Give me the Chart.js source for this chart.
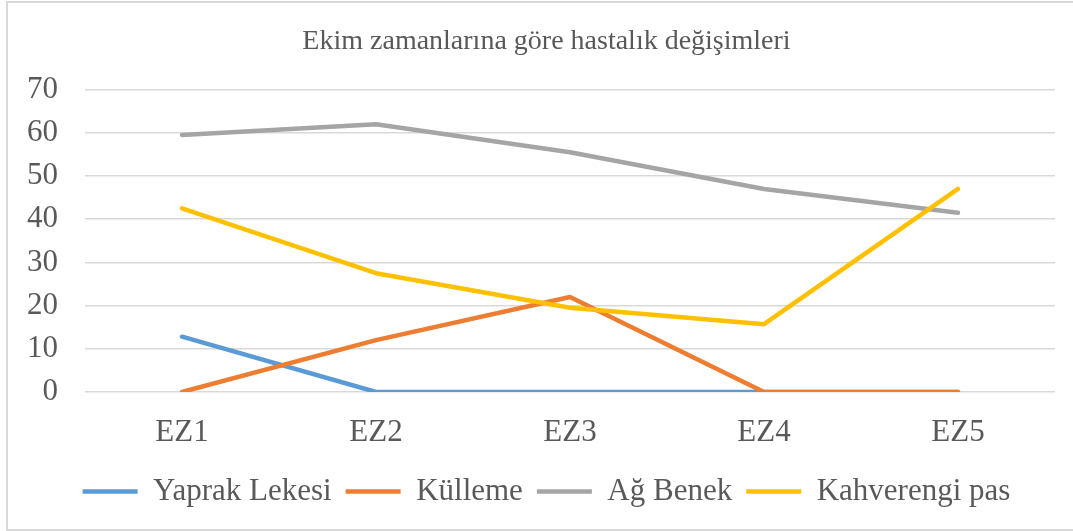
<!DOCTYPE html>
<html>
<head>
<meta charset="utf-8">
<script src="https://cdn.jsdelivr.net/npm/chart.js@4"></script>
<style>
  body { margin: 0; background: #fff; }
  .wrap { position: relative; width: 1073px; height: 531px; overflow: hidden; }
  .frame { position: absolute; left: 6px; top: 1px; width: 1080px; height: 526px;
           border: 2px solid #d9d9d9; pointer-events: none; }
</style>
</head>
<body>
<div class="wrap">
  <canvas id="chart" width="1073" height="531"></canvas>
  <div class="frame"></div>
</div>
<script>
const categories = ['EZ1', 'EZ2', 'EZ3', 'EZ4', 'EZ5'];
const yaprakLekesi = [12.8, 0, 0, 0, 0];
const kulleme = [0, 12, 22, 0, 0];
const agBenek = [59.5, 62, 55.5, 47, 41.5];
const kahverengiPas = [42.5, 27.5, 19.5, 15.7, 47];

const textColor = '#595959';
const fontFamily = '"Liberation Serif", "Times New Roman", serif';

function series(label, data, color, order) {
    return {
        label,
        data,
        borderColor: color,
        backgroundColor: color,
        borderWidth: 4.5,
        borderCapStyle: 'round',
        borderJoinStyle: 'round',
        pointRadius: 0,
        pointHoverRadius: 0,
        tension: 0,
        order,
    };
}

new Chart(document.getElementById('chart'), {
    type: 'line',
    data: {
        labels: categories,
        datasets: [
            series('Yaprak Lekesi', yaprakLekesi, '#5b9bd5', 3),
            series('Külleme', kulleme, '#ed7d31', 2),
            series('Ağ Benek', agBenek, '#a5a5a5', 1),
            series('Kahverengi pas', kahverengiPas, '#ffc000', 0),
        ],
    },
    options: {
        responsive: false,
        animation: false,
        layout: { padding: { left: 20, right: 0, top: 0, bottom: 14 } },
        plugins: {
            title: {
                display: true,
                text: 'Ekim zamanlarına göre hastalık değişimleri',
                color: textColor,
                font: { family: fontFamily, size: 28, weight: 'normal' },
                padding: { top: 25, bottom: 31 },
            },
            legend: {
                position: 'bottom',
                labels: {
                    color: textColor,
                    font: { family: fontFamily, size: 31 },
                    usePointStyle: true,
                    pointStyle: 'line',
                    pointStyleWidth: 55,
                    padding: 14,
                    sort: (a, b) => a.datasetIndex - b.datasetIndex,
                },
            },
            tooltip: { enabled: false },
        },
        scales: {
            x: {
                offset: true,
                grid: { display: false, drawTicks: false },
                border: { display: false },
                ticks: {
                    color: textColor,
                    font: { family: fontFamily, size: 31 },
                    padding: 22,
                },
                afterFit: (scale) => { scale.height = 70; },
            },
            y: {
                min: 0,
                max: 70,
                grid: { color: '#d9d9d9', lineWidth: 1.5, drawTicks: false },
                border: { display: false },
                ticks: {
                    stepSize: 10,
                    color: textColor,
                    font: { family: fontFamily, size: 31 },
                    padding: 27,
                },
                afterFit: (scale) => { scale.width = 65; },
            },
            // empty right axis, only keeps the plot clear of the right edge
            yRight: {
                position: 'right',
                min: 0,
                max: 70,
                grid: { display: false, drawTicks: false },
                border: { display: false },
                ticks: { display: false },
                afterFit: (scale) => { scale.width = 18; },
            },
        },
    },
});
</script>
</body>
</html>
